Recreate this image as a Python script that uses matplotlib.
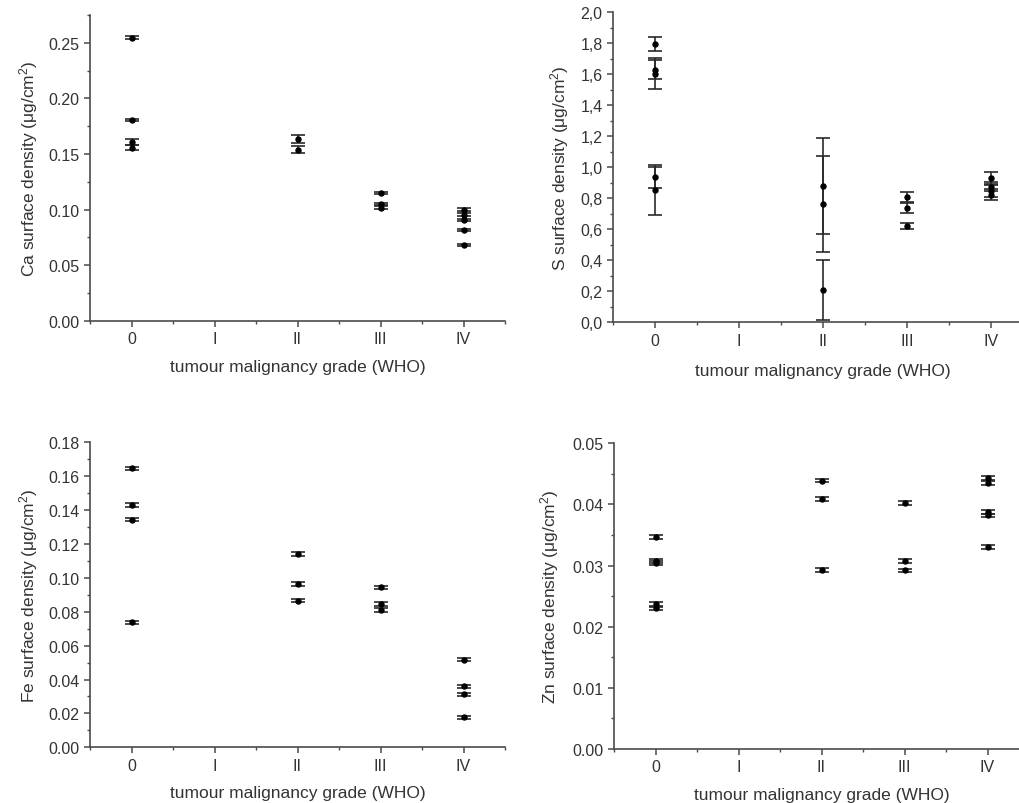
import matplotlib
matplotlib.use("Agg")
import matplotlib.pyplot as plt
from matplotlib.ticker import MultipleLocator, FuncFormatter, FixedLocator

plt.rcParams['font.family'] = ['Liberation Sans', 'DejaVu Sans']

grade_labels = ["0", "I", "II", "III", "IV"]

# Ca surface density per sample (grade index, value, uncertainty)
ca_grade = [0, 0, 0, 0, 2, 2, 3, 3, 3, 4, 4, 4, 4, 4]
ca_value = [0.2547, 0.1808, 0.1607, 0.1556, 0.1637, 0.1540,
            0.1150, 0.1051, 0.1018, 0.1000, 0.0955, 0.0907, 0.0817, 0.0679]
ca_error = [0.0010, 0.0010, 0.0030, 0.0022, 0.0037, 0.0035,
            0.0010, 0.0010, 0.0010, 0.0010, 0.0010, 0.0010, 0.0010, 0.0010]

# S surface density
s_grade = [0, 0, 0, 0, 0, 2, 2, 2, 3, 3, 3, 4, 4, 4, 4]
s_value = [1.795, 1.630, 1.605, 0.935, 0.855, 0.877, 0.766, 0.210,
           0.806, 0.738, 0.623, 0.929, 0.876, 0.849, 0.822]
s_error = [0.046, 0.062, 0.100, 0.070, 0.160, 0.310, 0.310, 0.195,
           0.037, 0.035, 0.020, 0.038, 0.030, 0.040, 0.035]

# Fe surface density
fe_grade = [0, 0, 0, 0, 2, 2, 2, 3, 3, 3, 4, 4, 4, 4]
fe_value = [0.1646, 0.1430, 0.1343, 0.0738, 0.1141, 0.0964, 0.0865,
            0.0944, 0.0846, 0.0810, 0.0517, 0.0360, 0.0313, 0.0177]
fe_error = [0.0010] * 14

# Zn surface density
zn_grade = [0, 0, 0, 0, 0, 2, 2, 2, 3, 3, 3, 4, 4, 4, 4, 4]
zn_value = [0.0347, 0.0307, 0.0304, 0.0237, 0.0230, 0.0439, 0.0409, 0.0293,
            0.0402, 0.0307, 0.0292, 0.0443, 0.0435, 0.0388, 0.0382, 0.0330]
zn_error = [0.0003] * 16

W, H = 1019, 804
fig = plt.figure(figsize=(W / 100, H / 100), dpi=100)

AXIS_GRAY = "#4a4a4a"
TEXT_GRAY = "#333333"


def make_axes(left_px, right_px, top_px, bottom_px):
    return fig.add_axes([left_px / W, 1 - bottom_px / H,
                         (right_px - left_px) / W, (bottom_px - top_px) / H])


def style(ax, ylim, major, minor, fmt, ylabel, xlabel_pad, ylabel_pad):
    for side in ("top", "right"):
        ax.spines[side].set_visible(False)
    for side in ("left", "bottom"):
        ax.spines[side].set_color(AXIS_GRAY)
        ax.spines[side].set_linewidth(1.2)
    ax.set_xlim(-0.5, 4.5)
    ax.set_ylim(*ylim)
    ax.xaxis.set_major_locator(FixedLocator(range(len(grade_labels))))
    ax.set_xticklabels(grade_labels)
    ax.xaxis.set_minor_locator(FixedLocator([-0.5, 0.5, 1.5, 2.5, 3.5, 4.5]))
    ax.yaxis.set_major_locator(MultipleLocator(major))
    ax.yaxis.set_minor_locator(MultipleLocator(minor))
    ax.yaxis.set_major_formatter(FuncFormatter(fmt))
    ax.tick_params(which="major", direction="out", length=4.5, width=1.1,
                   color=AXIS_GRAY, labelcolor=TEXT_GRAY, labelsize=11.5, pad=3)
    ax.tick_params(which="minor", direction="out", length=2.5, width=1.0,
                   color=AXIS_GRAY)
    ax.set_xlabel("tumour malignancy grade (WHO)", fontsize=12.5,
                  color=TEXT_GRAY, labelpad=xlabel_pad)
    ax.set_ylabel(ylabel, fontsize=12.5, color=TEXT_GRAY, labelpad=ylabel_pad)
    ax.patch.set_alpha(0)


def draw(ax, g, v, e):
    ax.errorbar(g, v, yerr=e, fmt="o", color="black", ecolor="#2a2a2a",
                markersize=3.6, elinewidth=1.2, capsize=4.7, capthick=1.2,
                clip_on=False, zorder=3)


dot_fmt = lambda d: (lambda y, _: f"{y:.{d}f}")
comma_fmt = lambda y, _: f"{y:.1f}".replace(".", ",")

ax1 = make_axes(90, 505, 16, 321.7)
draw(ax1, ca_grade, ca_value, ca_error)
style(ax1, (0, 0.275), 0.05, 0.025, dot_fmt(2),
      r"Ca surface density ($\mathregular{\mu g/cm^2}$)", 9, 6)

ax2 = make_axes(613, 1033, 13.3, 323.3)
draw(ax2, s_grade, s_value, s_error)
style(ax2, (0, 2.0), 0.2, 0.1, comma_fmt,
      r"S surface density ($\mathregular{\mu g/cm^2}$)", 11, 7)

ax3 = make_axes(90, 505, 443.3, 748.3)
draw(ax3, fe_grade, fe_value, fe_error)
style(ax3, (0, 0.18), 0.02, 0.01, dot_fmt(2),
      r"Fe surface density ($\mathregular{\mu g/cm^2}$)", 9, 6)

ax4 = make_axes(614, 1029, 444.3, 750)
draw(ax4, zn_grade, zn_value, zn_error)
style(ax4, (0, 0.05), 0.01, 0.005, dot_fmt(2),
      r"Zn surface density ($\mathregular{\mu g/cm^2}$)", 9, 8)

fig.savefig("out.png", dpi=100, facecolor="white")
